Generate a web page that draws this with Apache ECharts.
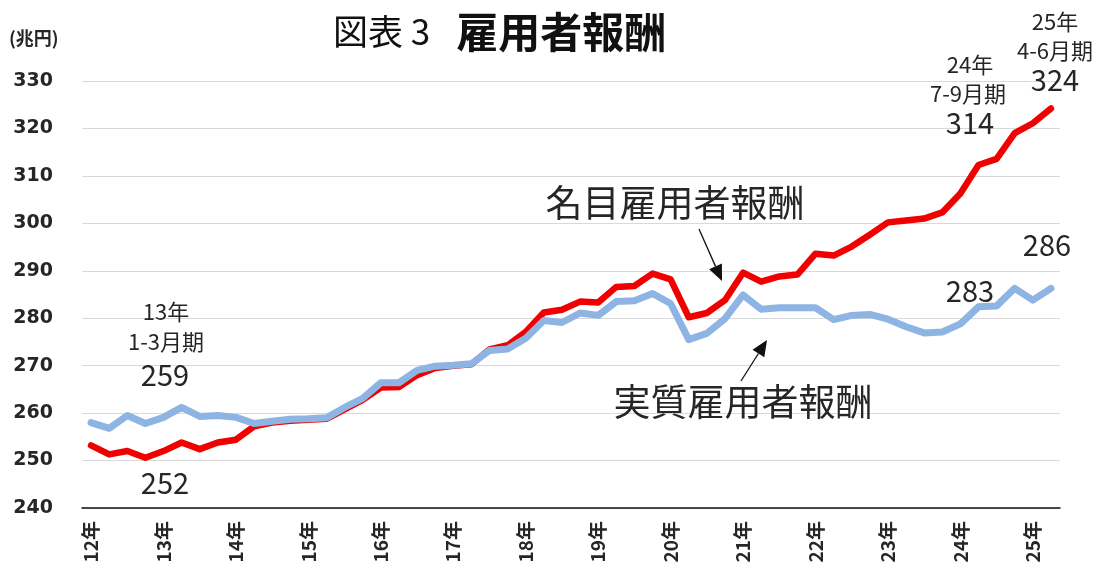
<!DOCTYPE html>
<html>
<head>
<meta charset="utf-8">
<script src="https://cdn.jsdelivr.net/npm/echarts@6/dist/echarts.min.js"></script>
<style>
html, body { margin: 0; padding: 0; background: #fff; }
#main { width: 1105px; height: 579px; }
</style>
</head>
<body>
<div id="main"></div>
<script>
// 四半期 (12年1-3月期 〜 25年4-6月期)
var years = ['12', '13', '14', '15', '16', '17', '18', '19', '20', '21', '22', '23', '24', '25'];
var quarterNames = ['1-3月期', '4-6月期', '7-9月期', '10-12月期'];

// 名目雇用者報酬 (兆円)
var nominal = [
    253.2, 251.3, 252.0, 250.6,
    252.0, 253.8, 252.4, 253.8,
    254.4, 257.2, 258.0, 258.4,
    258.6, 258.8, 260.8, 262.8,
    265.4, 265.5, 268.0, 269.5,
    270.0, 270.3, 273.4, 274.3,
    277.1, 281.2, 281.8, 283.5,
    283.3, 286.6, 286.8, 289.4,
    288.2, 280.2, 281.1, 283.8,
    289.6, 287.7, 288.8, 289.2,
    293.6, 293.2, 295.1, 297.6,
    300.2, 300.6, 301.0, 302.3,
    306.3, 312.3, 313.6, 319.0,
    321.1, 324.2
];
// 実質雇用者報酬 (兆円)
var real = [
    258.0, 256.8, 259.5, 257.8,
    259.1, 261.2, 259.3, 259.5,
    259.1, 257.8, 258.3, 258.7,
    258.8, 259.0, 261.2, 263.1,
    266.4, 266.4, 269.0, 269.9,
    270.1, 270.4, 273.2, 273.5,
    275.8, 279.5, 279.1, 281.1,
    280.6, 283.5, 283.7, 285.2,
    283.1, 275.5, 276.8, 279.9,
    284.9, 281.9, 282.2, 282.2,
    282.2, 279.7, 280.6, 280.8,
    279.8, 278.2, 276.9, 277.1,
    278.8, 282.4, 282.6, 286.3,
    283.8, 286.3
];

var categories = [];
years.forEach(function (y) {
    quarterNames.forEach(function (q) {
        if (categories.length < nominal.length) categories.push(y + '年' + q);
    });
});

var textColor = '#262626';
var jpFont = '"Noto Sans CJK JP", "Noto Sans", sans-serif';

function txt(text, x, y, size, extra) {
    var s = {
        text: text, x: x, y: y,
        fill: textColor, font: (extra || 'normal') + ' ' + size + 'px ' + jpFont,
        align: 'center', verticalAlign: 'middle'
    };
    return { type: 'text', style: s, z: 100 };
}
function arrow(x1, y1, x2, y2) {
    var ang = Math.atan2(y2 - y1, x2 - x1);
    var len = 16, half = 7;
    var bx = x2 - len * Math.cos(ang), by = y2 - len * Math.sin(ang);
    var px = -Math.sin(ang) * half, py = Math.cos(ang) * half;
    return [
        { type: 'line', shape: { x1: x1, y1: y1, x2: bx, y2: by }, style: { stroke: '#111', lineWidth: 1.3 }, z: 100 },
        { type: 'polygon', shape: { points: [[x2, y2], [bx + px, by + py], [bx - px, by - py]] }, style: { fill: '#111' }, z: 100 }
    ];
}

var chart = echarts.init(document.getElementById('main'));
var option = {
    backgroundColor: '#fff',
    animation: false,
    title: {
        text: '{a|図表 3}{b|雇用者報酬}',
        left: 328,
        top: 6,
        textStyle: {
            rich: {
                a: { fontSize: 35, fontFamily: jpFont, color: '#111', fontWeight: 'normal', padding: [0, 26, 0, 0] },
                b: { fontSize: 42, fontFamily: jpFont, color: '#111', fontWeight: 'bold' }
            }
        }
    },
    grid: { left: 82, right: 45, top: 81, bottom: 71 },
    xAxis: {
        type: 'category',
        data: categories,
        boundaryGap: true,
        axisLine: { lineStyle: { color: '#111', width: 1.5 } },
        axisTick: { show: false },
        axisLabel: {
            interval: 3,
            rotate: 90,
            margin: 13,
            color: textColor,
            fontWeight: 'bold',
            fontSize: 19,
            fontFamily: jpFont,
            formatter: function (v) { return v.split('年')[0] + '年'; }
        }
    },
    yAxis: {
        type: 'value',
        min: 240,
        max: 330,
        interval: 10,
        axisLine: { show: false },
        axisTick: { show: false },
        splitLine: { lineStyle: { color: '#d9d9d9', width: 1.2 } },
        axisLabel: {
            margin: 29,
            color: textColor,
            fontWeight: 'bold',
            fontSize: 19,
            fontFamily: '"DejaVu Sans", sans-serif'
        }
    },
    series: [
        {
            name: '名目雇用者報酬',
            type: 'line',
            data: nominal,
            symbol: 'none',
            lineStyle: { color: '#f00000', width: 6.5, cap: 'round', join: 'round' },
            z: 2
        },
        {
            name: '実質雇用者報酬',
            type: 'line',
            data: real,
            symbol: 'none',
            lineStyle: { color: '#8db4e2', width: 7, cap: 'round', join: 'round' },
            z: 3
        }
    ],
    graphic: [
        { type: 'text', left: 9, top: 29, z: 100, style: { text: '(兆円)', fill: textColor, font: 'bold 18px ' + jpFont } },
        txt('13年', 166, 312, 22),
        txt('1-3月期', 166, 342, 22),
        txt('259', 165, 375, 29),
        txt('252', 165, 483, 29),
        txt('24年', 970, 65, 22),
        txt('7-9月期', 968, 94, 22),
        txt('314', 970, 123, 29),
        txt('25年', 1055, 22, 22),
        txt('4-6月期', 1055, 51, 22),
        txt('324', 1055, 80, 29),
        txt('286', 1047, 245, 29),
        txt('283', 970, 291, 29),
        txt('名目雇用者報酬', 675, 203, 37),
        txt('実質雇用者報酬', 743, 402, 37)
    ].concat(arrow(699, 229, 722, 281), arrow(741, 381, 767, 340))
};
chart.setOption(option);
</script>
</body>
</html>
